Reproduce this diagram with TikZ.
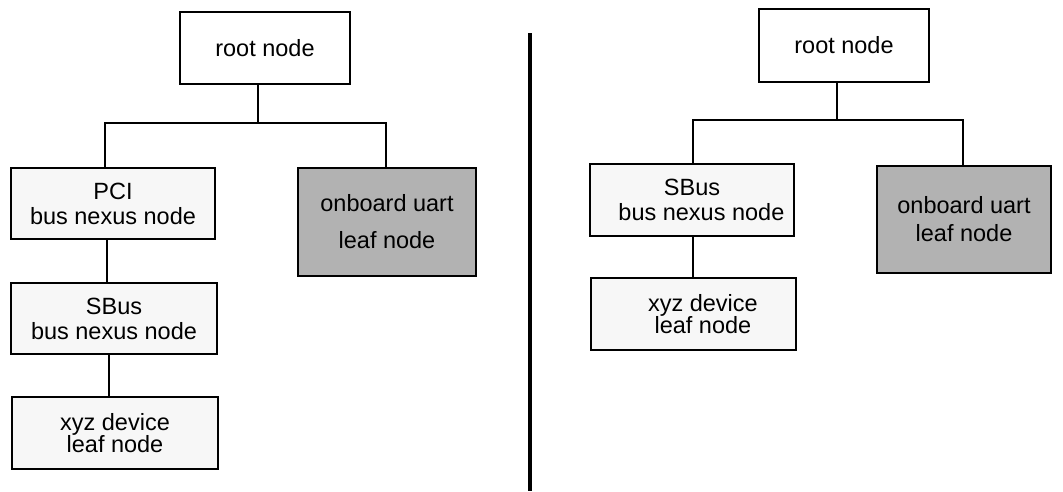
\documentclass[tikz,border=0pt]{standalone}
\usepackage{fontspec}
\setmainfont{Liberation Sans}
\usepackage{tikz}
\tikzset{rootbox/.style={draw,fill=white,line width=1.6pt,align=center,inner sep=0pt},
busbox/.style={rootbox,fill=black!3},
leafbox/.style={rootbox,fill=black!30},
treeline/.style={line width=1.2pt}}

\begin{document}
\begin{tikzpicture}[x=1pt,y=-1pt,font=\fontsize{23.5}{25}\selectfont]
\useasboundingbox (0,0) rectangle (1063,491);
% left tree
\node[rootbox,minimum width=170pt,minimum height=72pt] (lroot) at (265,48) {root node};
\node[busbox,minimum width=204pt,minimum height=71pt] (lpci) at (113,203.5) {PCI\\bus nexus node};
\node[leafbox,minimum width=178pt,minimum height=108pt] (luart) at (387,222) {onboard uart\\[12pt]leaf node};
\node[busbox,minimum width=206pt,minimum height=71pt] (lsbus) at (114,318.5) {SBus\\bus nexus node};
\node[busbox,minimum width=206pt,minimum height=72pt] (lxyz) at (115,433) {xyz device\\[-3pt]leaf node};
\coordinate (lbusl) at (105,123);
\coordinate (lbusr) at (386,123);
\draw[treeline] (lroot.south -| 258,0) -- (lbusl -| 258,0);
\draw[treeline] (lbusl |- lpci.north) -- (lbusl) -- (lbusr) -- (lbusr |- luart.north);
\draw[treeline] (lpci.south -| 107,0) -- (lsbus.north -| 107,0);
\draw[treeline] (lsbus.south -| 109,0) -- (lxyz.north -| 109,0);

% divider
\coordinate (dtop) at (530,33);
\coordinate (dbot) at (530,491);
\draw[line width=4pt] (dtop) -- (dbot);

% right tree
\node[rootbox,minimum width=170pt,minimum height=73pt] (rroot) at (844,45.5) {root node};
\node[busbox,minimum width=204pt,minimum height=72pt] (rsbus) at (692,200) {SBus\\\hspace*{0.8em}bus nexus node};
\node[leafbox,minimum width=174pt,minimum height=107pt] (ruart) at (964,219.5) {onboard uart\\[3pt]leaf node};
\node[busbox,minimum width=205pt,minimum height=72pt] (rxyz) at (693.5,314) {\hspace*{0.8em}xyz device\\[-3pt]\hspace*{0.8em}leaf node};
\coordinate (rbusl) at (693,120);
\coordinate (rbusr) at (963,120);
\draw[treeline] (rroot.south -| 837,0) -- (rbusl -| 837,0);
\draw[treeline] (rbusl |- rsbus.north) -- (rbusl) -- (rbusr) -- (rbusr |- ruart.north);
\draw[treeline] (rsbus.south -| 693,0) -- (rxyz.north -| 693,0);
\end{tikzpicture}
\end{document}
